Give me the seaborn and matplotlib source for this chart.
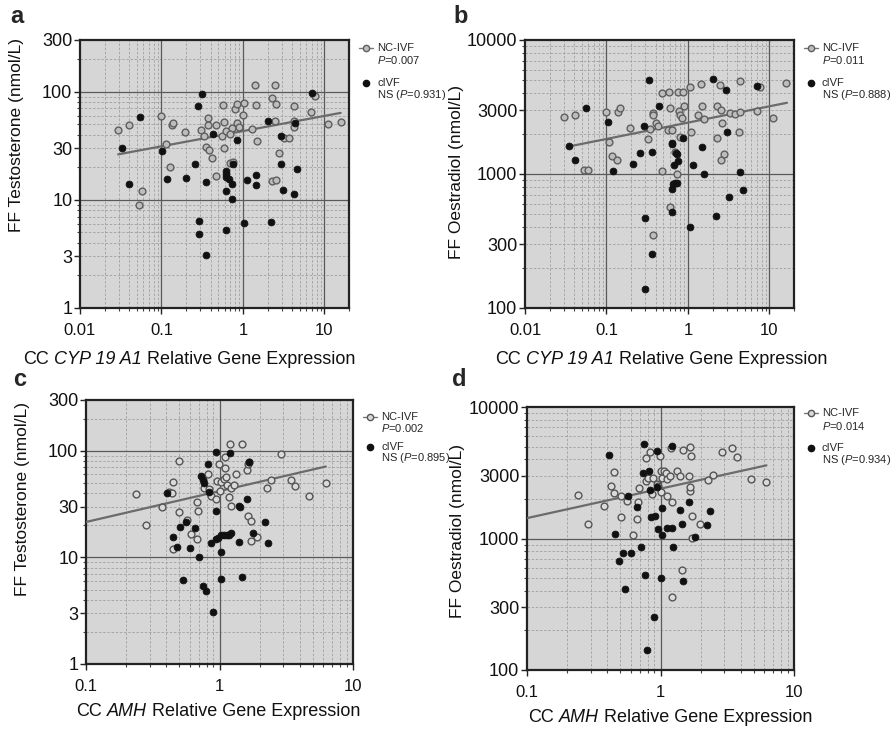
import numpy as np
import pandas as pd
import matplotlib
matplotlib.use("Agg")
import matplotlib.pyplot as plt
import seaborn as sns
from matplotlib.ticker import LogLocator, NullFormatter
from matplotlib.lines import Line2D

# ---------------- data ----------------
a_nc_x = [0.029, 0.040, 0.058, 0.053, 0.099, 0.115, 0.128, 0.135, 0.14, 0.193,
          0.309, 0.33, 0.369, 0.369, 0.356, 0.38, 0.42, 0.47, 0.47, 0.553,
          0.575, 0.593, 0.578, 0.625, 0.687, 0.73, 0.69, 0.75, 0.79, 0.853,
          0.85, 0.89, 1.0, 1.04, 1.29, 1.40, 1.44, 1.5, 2.27, 2.27,
          2.51, 2.47, 2.44, 2.54, 2.76, 3.15, 3.69, 4.17, 4.2, 4.2,
          6.93, 7.6, 11, 15.8]
a_nc_y = [44, 49, 12, 9, 60, 33, 20, 49, 51, 42,
          44, 39, 57, 49, 31, 29, 24.5, 49, 16.5, 39,
          76, 52, 30, 43, 22, 46, 41, 22.4, 69, 77,
          51, 47.5, 61, 79, 45, 115, 76, 35, 88, 15,
          15.2, 116, 53, 77, 27, 37, 37, 74, 53, 47,
          65.5, 92, 50, 52]
a_c_x = [0.033, 0.040, 0.054, 0.102, 0.117, 0.202, 0.258, 0.284, 0.315, 0.286,
         0.288, 0.356, 0.356, 0.43, 0.625, 0.62, 0.615, 0.67, 0.62, 0.615,
         0.73, 0.725, 0.76, 0.85, 1.02, 1.12, 1.44, 1.44, 2.0, 2.18,
         2.89, 2.89, 3.1, 4.3, 4.2, 4.62, 7.0]
a_c_y = [30, 14, 58, 28, 15.7, 15.9, 21.3, 73, 94.5, 6.4,
         4.8, 14.6, 3.1, 41, 18.5, 17.2, 16.3, 15.6, 12, 5.3,
         14, 10.1, 21.6, 35.4, 6.1, 15.4, 17.1, 13.8, 53, 6.3,
         38.8, 21.3, 12.3, 51.5, 11.2, 19.3, 96.6]
a_trend_x = [0.0294, 15.8]
a_trend_y = [26.3, 63.6]

b_nc_x = [0.030, 0.041, 0.053, 0.060, 0.098, 0.106, 0.118, 0.134, 0.138, 0.145,
          0.197, 0.32, 0.345, 0.37, 0.375, 0.40, 0.43, 0.485, 0.48, 0.585,
          0.61, 0.57, 0.63, 0.687, 0.73, 0.60, 0.76, 0.78, 0.80, 0.84,
          0.80, 0.87, 0.90, 1.05, 1.10, 1.34, 1.44, 1.47, 1.58, 2.3,
          2.3, 2.47, 2.54, 2.6, 2.56, 2.8, 3.24, 3.76, 4.37, 4.2,
          4.3, 7.06, 7.7, 11.2, 16.1, 0.37]
b_nc_y = [2655, 2750, 1077, 1077, 2910, 1746, 1371, 1265, 2890, 3120,
          2208, 1836, 2172, 2860, 2750, 2393, 2273, 1060, 3990, 4100,
          3100, 2135, 2135, 1452, 1000, 566, 4100, 2944, 2750, 2607,
          1893, 4100, 3205, 4449, 2074, 2750, 4710, 3205, 2564, 3205,
          1870, 4580, 2995, 2408, 1265, 1419, 2845, 2790, 2890, 2050,
          4930, 2930, 4449, 2640, 4770, 348]
b_c_x = [0.0346, 0.041, 0.056, 0.105, 0.12, 0.21, 0.26, 0.29, 0.33, 0.366,
         0.30, 0.36, 0.295, 0.44, 0.63, 0.64, 0.67, 0.71, 0.74, 0.76,
         0.66, 0.70, 0.74, 0.63, 0.63, 0.88, 1.07, 1.15, 1.5, 1.56,
         2.04, 2.2, 2.94, 3.0, 3.17, 4.3, 4.8, 7.1]
b_c_y = [1630, 1265, 3120, 2440, 1060, 1188, 1430, 2273, 4990, 1460,
         471, 254, 138, 3205, 1687, 1700, 1175, 1430, 1420, 1245,
         848, 855, 855, 767, 523, 1858, 401, 1167, 1585, 1000,
         5140, 488, 4230, 2074, 673, 1035, 755, 4530]
b_trend_x = [0.0324, 16.4]
b_trend_y = [1592, 3400]

c_nc_x = [0.235, 0.28, 0.37, 0.42, 0.44, 0.447, 0.445, 0.497, 0.50, 0.566,
          0.61, 0.673, 0.68, 0.685, 0.767, 0.82, 0.83, 0.865, 0.935, 0.965,
          0.99, 1.0, 1.03, 1.09, 1.1, 1.1, 1.11, 1.14, 1.17, 1.19,
          1.21, 1.21, 1.29, 1.34, 1.48, 1.61, 1.64, 1.67, 1.64, 1.71,
          1.73, 1.92, 2.25, 2.44, 2.88, 3.42, 3.68, 4.71, 6.25]
c_nc_y = [39.5, 20, 29.6, 41.2, 40, 51.5, 11.9, 26.9, 80, 22.5,
          16.5, 33, 14.9, 27.5, 44.6, 60.8, 44, 37.3, 35.3, 51.7,
          76, 42.4, 51.5, 54.2, 69.2, 87.3, 56.6, 48, 36.7, 116,
          45.2, 30.2, 47.5, 60.8, 117, 65.8, 75.6, 78.5, 24.7, 22.2,
          14.4, 15.5, 45.2, 53.8, 93, 53.3, 46.9, 37.8, 50.4]
c_c_x = [0.404, 0.45, 0.48, 0.51, 0.535, 0.56, 0.60, 0.66, 0.705, 0.733,
         0.75, 0.76, 0.755, 0.79, 0.82, 0.83, 0.86, 0.895, 0.935, 0.94,
         0.94, 0.97, 1.02, 1.03, 1.03, 1.08, 1.14, 1.17, 1.21, 1.19,
         1.40, 1.42, 1.41, 1.47, 1.62, 1.67, 1.79, 2.21, 2.30]
c_c_y = [40, 15.7, 12.4, 19.5, 6.1, 21.7, 12.3, 18.7, 10.2, 58.6,
         53.4, 49.7, 5.4, 4.8, 74.5, 41.4, 13.7, 3.1, 27.5, 98,
         14.9, 15.3, 6.3, 11.2, 16.3, 16.3, 16.3, 16.3, 16.8, 95,
         30.2, 30, 14.1, 6.5, 35.6, 78.5, 17.1, 21.6, 13.7]
c_trend_x = [0.1, 6.25]
c_trend_y = [21.5, 71.3]

d_nc_x = [0.241, 0.285, 0.377, 0.425, 0.446, 0.45, 0.502, 0.51, 0.565, 0.62,
          0.67, 0.68, 0.69, 0.775, 0.78, 0.81, 0.83, 0.86, 0.88, 0.94,
          0.955, 0.99, 1.0, 1.0, 1.03, 1.07, 1.1, 1.11, 1.12, 1.18,
          1.19, 1.22, 1.33, 1.39, 1.44, 1.22, 1.48, 1.63, 1.65, 1.68,
          1.67, 1.67, 1.71, 1.71, 1.96, 2.28, 2.47, 2.87, 3.43, 3.73,
          4.75, 6.22]
d_nc_y = [2150, 1285, 1782, 2500, 2213, 3185, 1445, 2113, 1915, 1072,
          1402, 1905, 2415, 2716, 4090, 2866, 4540, 2188, 2880, 2608,
          2500, 4210, 3240, 2254, 2880, 3265, 3140, 2830, 2090, 2990,
          4870, 1880, 3240, 2990, 577, 356, 4710, 2990, 4990, 4210,
          2305, 2450, 1490, 1012, 1294, 2800, 3055, 4520, 4840, 4190,
          2845, 2697]
d_c_x = [0.413, 0.46, 0.52, 0.485, 0.545, 0.57, 0.605, 0.67, 0.71, 0.754,
         0.74, 0.77, 0.82, 0.83, 0.85, 0.91, 0.90, 0.79, 0.94, 0.94,
         0.955, 1.0, 1.03, 1.03, 1.11, 1.21, 1.23, 1.21, 1.40, 1.44,
         1.47, 1.63, 1.82, 2.23, 2.33]
d_c_y = [4310, 1091, 773, 680, 414, 2113, 773, 1733, 869, 5260,
         3140, 529, 3240, 2318, 1445, 1490, 255, 141, 4590, 2450,
         1191, 499, 1702, 1055, 1205, 1205, 860, 5080, 1652, 1285,
         479, 1905, 1020, 1265, 1625]
d_trend_x = [0.1, 6.22]
d_trend_y = [1429, 3600]

test_ticks = [1, 3, 10, 30, 100, 300]
test_labels = ["1", "3", "10", "30", "100", "300"]
oest_ticks = [100, 300, 1000, 3000, 10000]
oest_labels = ["100", "300", "1000", "3000", "10000"]
cyp_ticks = [0.01, 0.1, 1, 10]
cyp_labels = ["0.01", "0.1", "1", "10"]
amh_ticks = [0.1, 1, 10]
amh_labels = ["0.1", "1", "10"]

xlab_cyp = [("CC", "normal"), ("CYP 19 A1", "italic"), ("Relative Gene Expression", "normal")]
xlab_amh = [("CC", "normal"), ("AMH", "italic"), ("Relative Gene Expression", "normal")]
ylab_t = "FF Testosterone (nmol/L)"
ylab_e = "FF Oestradiol (nmol/L)"

p_values = ["0.007", "0.011", "0.002", "0.014"]
ns_values = ["0.931", "0.888", "0.895", "0.934"]
letters = ["a", "b", "c", "d"]

# ---------------- style ----------------
sns.set_style("ticks")
plt.rcParams['font.family'] = ['Liberation Sans', 'DejaVu Sans']
plt.rcParams['mathtext.fontset'] = 'custom'
plt.rcParams['mathtext.rm'] = 'Liberation Sans'
plt.rcParams['mathtext.it'] = 'Liberation Sans:italic'
plt.rcParams['mathtext.bf'] = 'Liberation Sans:bold'

W, H = 890, 731
fig = plt.figure(figsize=(W / 100, H / 100), dpi=100)
fig.patch.set_facecolor("white")
renderer = fig.canvas.get_renderer()


def mixed_text(cx, cy, parts, fontsize):
    arts = [fig.text(0, 1 - cy / H, s, fontsize=fontsize, style=st, ha='left',
                     va='center', color='#111111') for s, st in parts]
    widths = [a.get_window_extent(renderer).width for a in arts]
    p1 = fig.text(0, 0, "C C", fontsize=fontsize)
    p2 = fig.text(0, 0, "CC", fontsize=fontsize)
    space = p1.get_window_extent(renderer).width - p2.get_window_extent(renderer).width
    p1.remove()
    p2.remove()
    total = sum(widths) + space * (len(parts) - 1)
    x = cx - total / 2
    for a, w in zip(arts, widths):
        a.set_x(x / W)
        x += w + space


panels = [
    dict(box=(80, 40, 349, 308), xlim=(0.01, 20), ylim=(1, 300),
         xt=cyp_ticks, xtl=cyp_labels, yt=test_ticks, ytl=test_labels,
         nc=(a_nc_x, a_nc_y), c=(a_c_x, a_c_y), tr=(a_trend_x, a_trend_y),
         xlab=xlab_cyp, ylab=ylab_t,
         xlab_pos=(189, 359), ylab_pos=(17, 135), letter=(10, 23),
         leg_y=(48, 60, 83, 95), nc_face="#bdbdbd", nc_edge="#5e5e5e"),
    dict(box=(525, 40, 794, 308), xlim=(0.01, 20), ylim=(100, 10000),
         xt=cyp_ticks, xtl=cyp_labels, yt=oest_ticks, ytl=oest_labels,
         nc=(b_nc_x, b_nc_y), c=(b_c_x, b_c_y), tr=(b_trend_x, b_trend_y),
         xlab=xlab_cyp, ylab=ylab_e,
         xlab_pos=(661, 360), ylab_pos=(457, 172), letter=(453, 23),
         leg_y=(48, 60, 83, 95), nc_face="#bdbdbd", nc_edge="#5e5e5e"),
    dict(box=(86, 400, 353, 664), xlim=(0.1, 10), ylim=(1, 300),
         xt=amh_ticks, xtl=amh_labels, yt=test_ticks, ytl=test_labels,
         nc=(c_nc_x, c_nc_y), c=(c_c_x, c_c_y), tr=(c_trend_x, c_trend_y),
         xlab=xlab_amh, ylab=ylab_t,
         xlab_pos=(218, 712), ylab_pos=(23, 499), letter=(13, 386),
         leg_y=(417, 428, 447, 458), nc_face="#dadada", nc_edge="#555555"),
    dict(box=(527, 407, 794, 670), xlim=(0.1, 10), ylim=(100, 10000),
         xt=amh_ticks, xtl=amh_labels, yt=oest_ticks, ytl=oest_labels,
         nc=(d_nc_x, d_nc_y), c=(d_c_x, d_c_y), tr=(d_trend_x, d_trend_y),
         xlab=xlab_amh, ylab=ylab_e,
         xlab_pos=(670, 717), ylab_pos=(458, 531), letter=(452, 386),
         leg_y=(413, 426, 448, 460), nc_face="#dadada", nc_edge="#555555"),
]

for i, p in enumerate(panels):
    l, t, r, b = p['box']
    ax = fig.add_axes([l / W, 1 - b / H, (r - l) / W, (b - t) / H])
    ax.set_facecolor("#d6d6d6")
    ax.set_xscale("log")
    ax.set_yscale("log")
    ax.set_axisbelow(True)

    # grid: light dashed minor lines, darker decade lines
    ax.xaxis.set_minor_locator(LogLocator(base=10, subs=np.arange(2, 10), numticks=20))
    ax.yaxis.set_minor_locator(LogLocator(base=10, subs=np.arange(2, 10), numticks=20))
    ax.xaxis.set_minor_formatter(NullFormatter())
    ax.yaxis.set_minor_formatter(NullFormatter())
    ax.xaxis.remove_overlapping_locs = False
    ax.yaxis.remove_overlapping_locs = False
    ax.grid(which='minor', color='#a0a0a0', linestyle=(0, (3, 2)), linewidth=0.6)
    ax.grid(which='major', visible=False)
    x0, x1 = p['xlim']
    y0, y1 = p['ylim']
    for k in range(-3, 5):
        v = 10.0 ** k
        if x0 < v < x1:
            ax.axvline(v, color='#5a5a5a', lw=0.9, zorder=0.8)
        if y0 < v < y1:
            ax.axhline(v, color='#5a5a5a', lw=0.9, zorder=0.8)

    ncx, ncy = np.array(p['nc'][0], float), np.array(p['nc'][1], float)
    cx, cy = np.array(p['c'][0], float), np.array(p['c'][1], float)

    # NC-IVF trend line
    sns.lineplot(x=p['tr'][0], y=p['tr'][1], ax=ax, color='#6b6b6b', lw=1.6, zorder=3)

    sns.scatterplot(x=ncx, y=ncy, ax=ax, s=24, color=p['nc_face'],
                    edgecolor=p['nc_edge'], linewidth=1.0, zorder=4)
    sns.scatterplot(x=cx, y=cy, ax=ax, s=24, color='#111111',
                    edgecolor='#111111', linewidth=0.6, zorder=5)

    ax.set_xlim(x0, x1)
    ax.set_ylim(y0, y1)
    ax.set_xticks(p['xt'], p['xtl'])
    ax.set_yticks(p['yt'], p['ytl'])
    ax.tick_params(axis='x', which='major', labelsize=12, length=4, width=1,
                   pad=7, color='#222222', labelcolor='#111111')
    ax.tick_params(axis='y', which='major', labelsize=13, length=4, width=1,
                   pad=1.5, color='#222222', labelcolor='#111111')
    ax.tick_params(which='minor', length=2.5, width=0.8, color='#444444')
    for s in ax.spines.values():
        s.set_visible(True)
        s.set_linewidth(1.6)
        s.set_color('#222222')
    ax.set_xlabel("")
    ax.set_ylabel("")

    # axis titles
    mixed_text(p['xlab_pos'][0], p['xlab_pos'][1], p['xlab'], 13)
    fig.text(p['ylab_pos'][0] / W, 1 - p['ylab_pos'][1] / H, p['ylab'],
             rotation=90, ha='center', va='center', fontsize=12.5, color='#111111')

    # panel letter
    fig.text(p['letter'][0] / W, 1 - p['letter'][1] / H, letters[i],
             fontsize=17, fontweight='bold', ha='left', va='baseline')

    # legend
    ly = p['leg_y']
    mx = r + 17
    tx = r + 28
    fig.add_artist(Line2D([(mx - 7) / W, mx / W, (mx + 7) / W], [1 - ly[0] / H] * 3,
                          transform=fig.transFigure, color='#777777', lw=1.0,
                          marker='o', markevery=[1], ms=4.5,
                          mfc=p['nc_face'], mec=p['nc_edge'], mew=1.0))
    fig.add_artist(Line2D([mx / W], [1 - ly[2] / H], transform=fig.transFigure,
                          linestyle='none', marker='o', ms=4.5,
                          mfc='#111111', mec='#111111'))
    fs_leg = 8
    fig.text(tx / W, 1 - ly[0] / H, "NC-IVF", fontsize=fs_leg, va='center', ha='left')
    fig.text(tx / W, 1 - ly[1] / H, r"$\mathit{P}$=" + p_values[i], fontsize=fs_leg,
             va='center', ha='left')
    fig.text(tx / W, 1 - ly[2] / H, "cIVF", fontsize=fs_leg, va='center', ha='left')
    fig.text(tx / W, 1 - ly[3] / H, r"NS ($\mathit{P}$=" + ns_values[i] + ")",
             fontsize=fs_leg, va='center', ha='left')

fig.savefig("out.png", dpi=100)
